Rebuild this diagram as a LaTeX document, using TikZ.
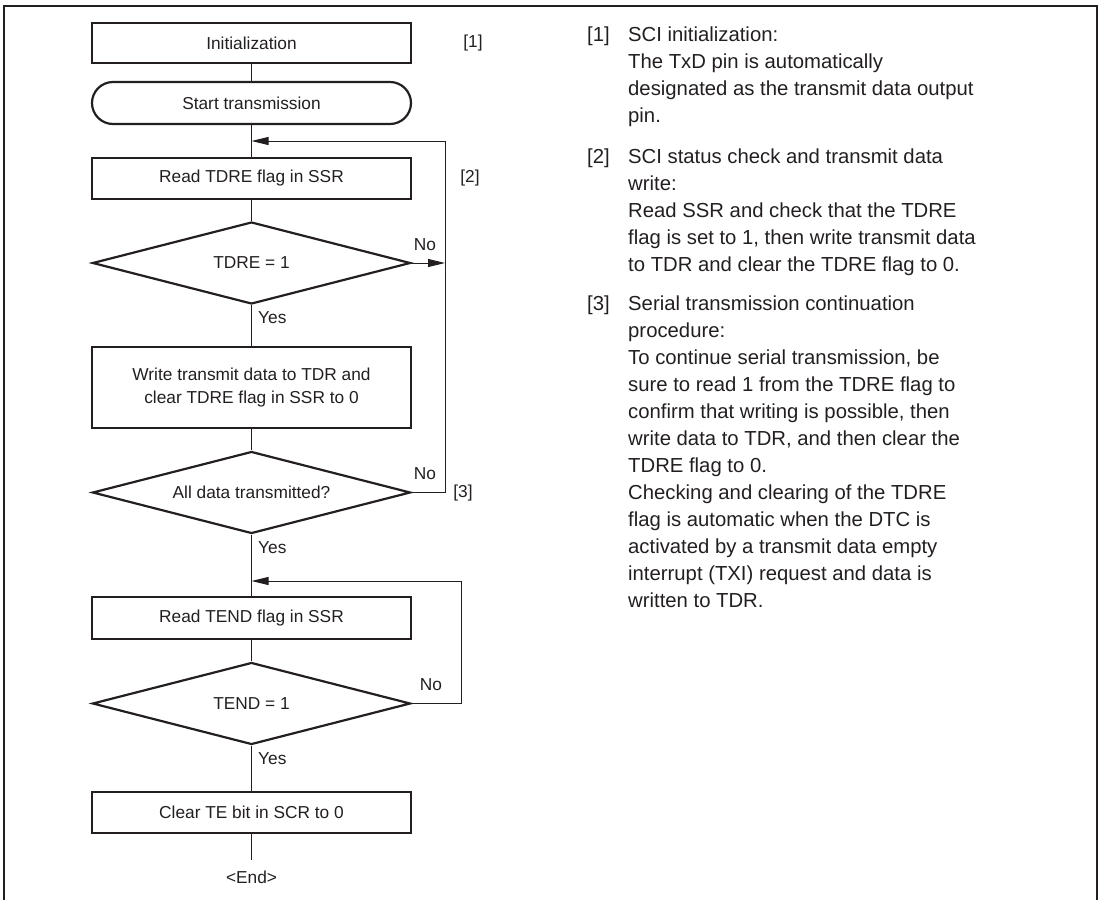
\documentclass[tikz,border=0pt]{standalone}
\usepackage{fontspec}
\setmainfont{Liberation Sans}
\usetikzlibrary{shapes.geometric,arrows.meta}
\definecolor{ink}{HTML}{231F20}
\begin{document}
\begin{tikzpicture}[x=1pt,y=-1pt,
  every node/.style={text=ink},
  boxtext/.style={font=\fontsize{17.3}{22.7}\selectfont},
  procbox/.style={draw=ink,line width=2.2pt,rectangle,minimum width=319pt,inner sep=0pt,boxtext,align=center},
  termbox/.style={procbox,rounded corners=21pt},
  decbox/.style={draw=ink,line width=2.2pt,diamond,aspect=3.9,minimum width=318pt,minimum height=82pt,inner sep=0pt,boxtext},
  conn/.style={draw=ink,line width=1pt},
  arr/.style={conn,-{Triangle[length=17pt,width=8pt]}},
  lbl/.style={boxtext,inner sep=0pt},
  note/.style={font=\fontsize{20.3}{27}\selectfont,inner sep=0pt,anchor=base west}]
\useasboundingbox (0,0) rectangle (1101,900);
% frame
\draw[ink,line width=2pt] (3.5,900) -- (3.5,6) -- (1097,6) -- (1097,900);

% flowchart nodes
\node[procbox,minimum height=40pt] (init) at (251.5,43) {Initialization};
\node[termbox,minimum height=42pt] (start) at (251.5,103) {Start transmission};
\node[procbox,minimum height=41pt] (rd1) at (251.5,178.5) {Read TDRE flag in SSR};
\node[decbox] (d1) at (251.5,263) {TDRE = 1};
\node[procbox,minimum height=81pt] (wr) at (251.5,387.5) {Write transmit data to TDR and\\clear TDRE flag in SSR to 0};
\node[decbox] (d2) at (251.5,492.5) {All data transmitted?};
\node[procbox,minimum height=42pt] (rd2) at (251.5,618) {Read TEND flag in SSR};
\node[decbox] (d3) at (251.5,703.5) {TEND = 1};
\node[procbox,minimum height=41pt] (clr) at (251.5,812.5) {Clear TE bit in SCR to 0};
\node[lbl] (endt) at (251.5,877) {<End>};

\coordinate (endc) at (251.5,860);
\coordinate (m1) at (251.5,141);
\coordinate (m2) at (251.5,581);
\coordinate (l1a) at (445,263);
\coordinate (l1b) at (445,492.5);
\coordinate (l1c) at (445,141);
\coordinate (l2a) at (461,703.5);
\coordinate (l2b) at (461,581);

% vertical connectors
\draw[conn] (init.south) -- (start.north);
\draw[conn] (start.south) -- (rd1.north);
\draw[conn] (rd1.south) -- (d1.north);
\draw[conn] (d1.south) -- (wr.north);
\draw[conn] (wr.south) -- (d2.north);
\draw[conn] (d2.south) -- (rd2.north);
\draw[conn] (rd2.south) -- (d3.north);
\draw[conn] (d3.south) -- (clr.north);
\draw[conn] (clr.south) -- (endc);

% loops
\draw[arr] (d1.east) -- (l1a);
\draw[conn] (d2.east) -- (l1b) -- (l1c);
\draw[arr] (l1c) -- (m1);
\draw[conn] (d3.east) -- (l2a) -- (l2b);
\draw[arr] (l2b) -- (m2);

% labels
\node[lbl,anchor=west] (y1) at (258,318) {Yes};
\node[lbl,anchor=west] (y2) at (258,547.5) {Yes};
\node[lbl,anchor=west] (y3) at (258,759) {Yes};
\node[lbl] (n1) at (425,245) {No};
\node[lbl] (n2) at (425,474) {No};
\node[lbl] (n3) at (431,685) {No};
\node[lbl] (s1) at (473,43) {[1]};
\node[lbl] (s2) at (470,178) {[2]};
\node[lbl] (s3) at (463,493) {[3]};

% notes
\node[note] (k1) at (587,41.5) {[1]};
\node[note] (t1) at (628,41.5) {\parbox[t]{460pt}{\raggedright
SCI initialization:\\
The TxD pin is automatically\\
designated as the transmit data output\\
pin.}};
\node[note] (k2) at (587,163.5) {[2]};
\node[note] (t2) at (628,163.5) {\parbox[t]{460pt}{\raggedright
SCI status check and transmit data\\
write:\\
Read SSR and check that the TDRE\\
flag is set to 1, then write transmit data\\
to TDR and clear the TDRE flag to 0.}};
\node[note] (k3) at (587,310.5) {[3]};
\node[note] (t3) at (628,310.5) {\parbox[t]{460pt}{\raggedright
Serial transmission continuation\\
procedure:\\
To continue serial transmission, be\\
sure to read 1 from the TDRE flag to\\
confirm that writing is possible, then\\
write data to TDR, and then clear the\\
TDRE flag to 0.\\
Checking and clearing of the TDRE\\
flag is automatic when the DTC is\\
activated by a transmit data empty\\
interrupt (TXI) request and data is\\
written to TDR.}};
\end{tikzpicture}
\end{document}
